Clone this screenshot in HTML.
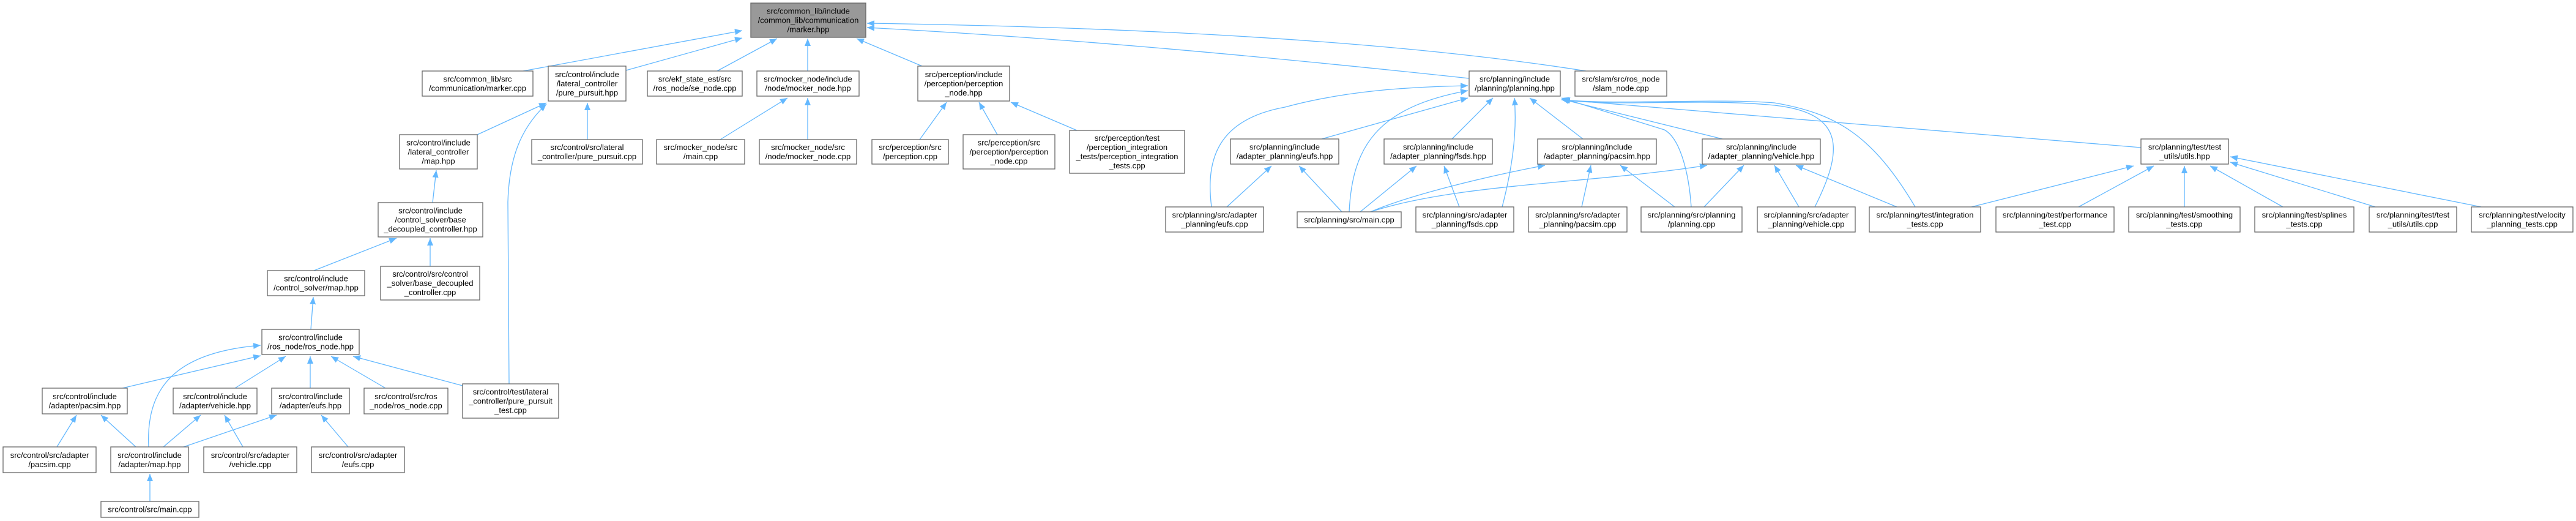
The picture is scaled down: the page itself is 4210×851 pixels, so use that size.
<!DOCTYPE html>
<html><head><meta charset="utf-8"><style>
html,body{margin:0;padding:0;background:#fff;}
svg{display:block;}
text{font-family:"Liberation Sans",Arial,sans-serif;font-size:13px;fill:#000;text-anchor:middle;}
.n{fill:#fff;stroke:#666;stroke-width:1.3;}
.e{fill:none;stroke:#63b8ff;stroke-width:1.3;marker-end:url(#a);}
</style></head><body>
<svg width="4210" height="851" viewBox="0 0 4210 851" xmlns="http://www.w3.org/2000/svg">
<defs><marker id="a" markerUnits="userSpaceOnUse" markerWidth="12" markerHeight="10" refX="12" refY="5" orient="auto"><path d="M0,0 L12,5 L0,10 z" fill="#63b8ff"/></marker></defs>

<!-- edges to root -->
<path class="e" d="M855,116 L1213,50"/>
<path class="e" d="M1023,115 L1213,62"/>
<path class="e" d="M1172,116 L1270,63"/>
<path class="e" d="M1320,116 L1320,63"/>
<path class="e" d="M1507,108 L1400,63"/>
<path class="e" d="M2401,128 C2000,85 1700,60 1417,45"/>
<path class="e" d="M2592,116 C2300,70 1900,45 1417,38"/>
<!-- control -->
<path class="e" d="M780,220 L893,168"/>
<path class="e" d="M960,228 L960,168"/>
<path class="e" d="M832,627 L830,330 C832,260 850,210 893,170"/>
<path class="e" d="M707,331 L713,278"/>
<path class="e" d="M513,442 L648,389"/>
<path class="e" d="M703,435 L703,389"/>
<path class="e" d="M508,538 L512,485"/>
<path class="e" d="M200,634 L426,581"/>
<path class="e" d="M243,730 C238,630 290,575 426,564"/>
<path class="e" d="M384,634 L467,582"/>
<path class="e" d="M507,634 L507,582"/>
<path class="e" d="M630,634 L541,582"/>
<path class="e" d="M756,630 L577,582"/>
<path class="e" d="M93,730 L125,678"/>
<path class="e" d="M222,730 L165,678"/>
<path class="e" d="M267,730 L328,678"/>
<path class="e" d="M397,730 L367,678"/>
<path class="e" d="M300,730 L452,678"/>
<path class="e" d="M569,730 L525,678"/>
<path class="e" d="M245,819 L245,774"/>
<path class="e" d="M1177,228 L1287,160"/>
<path class="e" d="M1320,228 L1320,160"/>
<path class="e" d="M1503,228 L1547,167"/>
<path class="e" d="M1630,220 L1600,167"/>
<path class="e" d="M1760,213 L1652,167"/>
<!-- planning -->
<path class="e" d="M2160,227 L2399,160"/>
<path class="e" d="M1980,338 C1970,260 1990,195 2100,175 C2200,148 2300,142 2399,140"/>
<path class="e" d="M2205,346 C2210,240 2250,175 2399,148"/>
<path class="e" d="M2373,227 L2440,160"/>
<path class="e" d="M2587,227 L2500,160"/>
<path class="e" d="M2455,338 C2470,280 2480,220 2475,160"/>
<path class="e" d="M2764,338 C2760,280 2745,225 2720,212 L2552,160"/>
<path class="e" d="M2815,227 L2552,162"/>
<path class="e" d="M2966,338 C3010,250 3020,185 2900,172 C2780,160 2650,175 2552,163"/>
<path class="e" d="M3130,338 C3060,220 3000,185 2900,168 C2800,160 2650,172 2552,163"/>
<path class="e" d="M3499,241 L2554,163"/>
<path class="e" d="M2005,338 L2078,271"/>
<path class="e" d="M2193,346 L2123,271"/>
<path class="e" d="M2223,346 L2315,271"/>
<path class="e" d="M2385,338 L2360,271"/>
<path class="e" d="M2240,346 C2300,320 2420,290 2525,270"/>
<path class="e" d="M2240,346 C2380,300 2600,300 2790,270"/>
<path class="e" d="M2585,338 L2600,270"/>
<path class="e" d="M2737,338 L2648,270"/>
<path class="e" d="M2785,338 L2850,270"/>
<path class="e" d="M2940,338 L2900,270"/>
<path class="e" d="M3100,338 L2935,270"/>
<path class="e" d="M3222,338 L3487,271"/>
<path class="e" d="M3397,338 L3520,271"/>
<path class="e" d="M3570,338 L3570,271"/>
<path class="e" d="M3731,338 L3612,271"/>
<path class="e" d="M3882,338 L3645,265"/>
<path class="e" d="M4055,338 L3645,256"/>

<!-- nodes -->
<rect x="1227" y="5" width="188" height="56" fill="#999" stroke="#666" stroke-width="1.3"/>
<text x="1321" y="22.5"><tspan x="1321">src/common_lib/include</tspan><tspan x="1321" dy="15">/common_lib/communication</tspan><tspan x="1321" dy="15">/marker.hpp</tspan></text>

<rect class="n" x="690" y="116" width="181" height="41"/>
<text y="133.5"><tspan x="780.5">src/common_lib/src</tspan><tspan x="780.5" dy="15">/communication/marker.cpp</tspan></text>
<rect class="n" x="896" y="108" width="127" height="57"/>
<text y="126"><tspan x="959.5">src/control/include</tspan><tspan x="959.5" dy="15">/lateral_controller</tspan><tspan x="959.5" dy="15">/pure_pursuit.hpp</tspan></text>
<rect class="n" x="1058" y="116" width="155" height="41"/>
<text y="133.5"><tspan x="1135.5">src/ekf_state_est/src</tspan><tspan x="1135.5" dy="15">/ros_node/se_node.cpp</tspan></text>
<rect class="n" x="1237" y="116" width="167" height="41"/>
<text y="133.5"><tspan x="1320.5">src/mocker_node/include</tspan><tspan x="1320.5" dy="15">/node/mocker_node.hpp</tspan></text>
<rect class="n" x="1500" y="108" width="150" height="57"/>
<text y="126"><tspan x="1575">src/perception/include</tspan><tspan x="1575" dy="15">/perception/perception</tspan><tspan x="1575" dy="15">_node.hpp</tspan></text>
<rect class="n" x="2401" y="116" width="149" height="41"/>
<text y="133.5"><tspan x="2475.5">src/planning/include</tspan><tspan x="2475.5" dy="15">/planning/planning.hpp</tspan></text>
<rect class="n" x="2574" y="116" width="150" height="41"/>
<text y="133.5"><tspan x="2649">src/slam/src/ros_node</tspan><tspan x="2649" dy="15">/slam_node.cpp</tspan></text>

<rect class="n" x="653" y="220" width="127" height="56"/>
<text y="237.5"><tspan x="716.5">src/control/include</tspan><tspan x="716.5" dy="15">/lateral_controller</tspan><tspan x="716.5" dy="15">/map.hpp</tspan></text>
<rect class="n" x="869" y="228" width="181" height="40"/>
<text y="245"><tspan x="959.5">src/control/src/lateral</tspan><tspan x="959.5" dy="15">_controller/pure_pursuit.cpp</tspan></text>
<rect class="n" x="1073" y="228" width="144" height="40"/>
<text y="245"><tspan x="1145">src/mocker_node/src</tspan><tspan x="1145" dy="15">/main.cpp</tspan></text>
<rect class="n" x="1241" y="228" width="159" height="40"/>
<text y="245"><tspan x="1320.5">src/mocker_node/src</tspan><tspan x="1320.5" dy="15">/node/mocker_node.cpp</tspan></text>
<rect class="n" x="1425" y="228" width="125" height="40"/>
<text y="245"><tspan x="1487.5">src/perception/src</tspan><tspan x="1487.5" dy="15">/perception.cpp</tspan></text>
<rect class="n" x="1574" y="220" width="150" height="56"/>
<text y="237.5"><tspan x="1649">src/perception/src</tspan><tspan x="1649" dy="15">/perception/perception</tspan><tspan x="1649" dy="15">_node.cpp</tspan></text>
<rect class="n" x="1748" y="213" width="188" height="70"/>
<text y="230"><tspan x="1842">src/perception/test</tspan><tspan x="1842" dy="15">/perception_integration</tspan><tspan x="1842" dy="15">_tests/perception_integration</tspan><tspan x="1842" dy="15">_tests.cpp</tspan></text>

<rect class="n" x="618" y="331" width="171" height="56"/>
<text y="348.5"><tspan x="703.5">src/control/include</tspan><tspan x="703.5" dy="15">/control_solver/base</tspan><tspan x="703.5" dy="15">_decoupled_controller.hpp</tspan></text>
<rect class="n" x="622" y="435" width="162" height="55"/>
<text y="452"><tspan x="703">src/control/src/control</tspan><tspan x="703" dy="15">_solver/base_decoupled</tspan><tspan x="703" dy="15">_controller.cpp</tspan></text>
<rect class="n" x="437" y="442" width="159" height="41"/>
<text y="459.5"><tspan x="516.5">src/control/include</tspan><tspan x="516.5" dy="15">/control_solver/map.hpp</tspan></text>
<rect class="n" x="428" y="538" width="159" height="41"/>
<text y="555.5"><tspan x="507.5">src/control/include</tspan><tspan x="507.5" dy="15">/ros_node/ros_node.hpp</tspan></text>

<rect class="n" x="69" y="634" width="139" height="42"/>
<text y="652"><tspan x="138.5">src/control/include</tspan><tspan x="138.5" dy="15">/adapter/pacsim.hpp</tspan></text>
<rect class="n" x="283" y="634" width="137" height="42"/>
<text y="652"><tspan x="351.5">src/control/include</tspan><tspan x="351.5" dy="15">/adapter/vehicle.hpp</tspan></text>
<rect class="n" x="444" y="634" width="127" height="42"/>
<text y="652"><tspan x="507.5">src/control/include</tspan><tspan x="507.5" dy="15">/adapter/eufs.hpp</tspan></text>
<rect class="n" x="595" y="634" width="137" height="42"/>
<text y="652"><tspan x="663.5">src/control/src/ros</tspan><tspan x="663.5" dy="15">_node/ros_node.cpp</tspan></text>
<rect class="n" x="756" y="627" width="157" height="56"/>
<text y="644.5"><tspan x="834.5">src/control/test/lateral</tspan><tspan x="834.5" dy="15">_controller/pure_pursuit</tspan><tspan x="834.5" dy="15">_test.cpp</tspan></text>

<rect class="n" x="5" y="730" width="152" height="42"/>
<text y="748"><tspan x="81">src/control/src/adapter</tspan><tspan x="81" dy="15">/pacsim.cpp</tspan></text>
<rect class="n" x="181" y="730" width="127" height="42"/>
<text y="748"><tspan x="244.5">src/control/include</tspan><tspan x="244.5" dy="15">/adapter/map.hpp</tspan></text>
<rect class="n" x="333" y="730" width="152" height="42"/>
<text y="748"><tspan x="409">src/control/src/adapter</tspan><tspan x="409" dy="15">/vehicle.cpp</tspan></text>
<rect class="n" x="509" y="730" width="152" height="42"/>
<text y="748"><tspan x="585">src/control/src/adapter</tspan><tspan x="585" dy="15">/eufs.cpp</tspan></text>
<rect class="n" x="165" y="819" width="160" height="26"/>
<text x="245" y="836.5">src/control/src/main.cpp</text>

<!-- planning nodes -->
<rect class="n" x="2011" y="227" width="177" height="41"/>
<text y="244.5"><tspan x="2099.5">src/planning/include</tspan><tspan x="2099.5" dy="15">/adapter_planning/eufs.hpp</tspan></text>
<rect class="n" x="2262" y="227" width="177" height="41"/>
<text y="244.5"><tspan x="2350.5">src/planning/include</tspan><tspan x="2350.5" dy="15">/adapter_planning/fsds.hpp</tspan></text>
<rect class="n" x="2513" y="227" width="194" height="41"/>
<text y="244.5"><tspan x="2610">src/planning/include</tspan><tspan x="2610" dy="15">/adapter_planning/pacsim.hpp</tspan></text>
<rect class="n" x="2782" y="227" width="193" height="41"/>
<text y="244.5"><tspan x="2878.5">src/planning/include</tspan><tspan x="2878.5" dy="15">/adapter_planning/vehicle.hpp</tspan></text>
<rect class="n" x="3499" y="227" width="143" height="41"/>
<text y="244.5"><tspan x="3570.5">src/planning/test/test</tspan><tspan x="3570.5" dy="15">_utils/utils.hpp</tspan></text>

<rect class="n" x="1905" y="338" width="160" height="41"/>
<text y="355.5"><tspan x="1985">src/planning/src/adapter</tspan><tspan x="1985" dy="15">_planning/eufs.cpp</tspan></text>
<rect class="n" x="2120" y="346" width="170" height="26"/>
<text x="2205" y="363.5">src/planning/src/main.cpp</text>
<rect class="n" x="2314" y="338" width="160" height="41"/>
<text y="355.5"><tspan x="2394">src/planning/src/adapter</tspan><tspan x="2394" dy="15">_planning/fsds.cpp</tspan></text>
<rect class="n" x="2498" y="338" width="161" height="41"/>
<text y="355.5"><tspan x="2578.5">src/planning/src/adapter</tspan><tspan x="2578.5" dy="15">_planning/pacsim.cpp</tspan></text>
<rect class="n" x="2682" y="338" width="165" height="41"/>
<text y="355.5"><tspan x="2764.5">src/planning/src/planning</tspan><tspan x="2764.5" dy="15">/planning.cpp</tspan></text>
<rect class="n" x="2872" y="338" width="160" height="41"/>
<text y="355.5"><tspan x="2952">src/planning/src/adapter</tspan><tspan x="2952" dy="15">_planning/vehicle.cpp</tspan></text>
<rect class="n" x="3055" y="338" width="182" height="41"/>
<text y="355.5"><tspan x="3146">src/planning/test/integration</tspan><tspan x="3146" dy="15">_tests.cpp</tspan></text>
<rect class="n" x="3262" y="338" width="193" height="41"/>
<text y="355.5"><tspan x="3358.5">src/planning/test/performance</tspan><tspan x="3358.5" dy="15">_test.cpp</tspan></text>
<rect class="n" x="3479" y="338" width="182" height="41"/>
<text y="355.5"><tspan x="3570">src/planning/test/smoothing</tspan><tspan x="3570" dy="15">_tests.cpp</tspan></text>
<rect class="n" x="3685" y="338" width="162" height="41"/>
<text y="355.5"><tspan x="3766">src/planning/test/splines</tspan><tspan x="3766" dy="15">_tests.cpp</tspan></text>
<rect class="n" x="3872" y="338" width="143" height="41"/>
<text y="355.5"><tspan x="3943.5">src/planning/test/test</tspan><tspan x="3943.5" dy="15">_utils/utils.cpp</tspan></text>
<rect class="n" x="4039" y="338" width="166" height="41"/>
<text y="355.5"><tspan x="4122">src/planning/test/velocity</tspan><tspan x="4122" dy="15">_planning_tests.cpp</tspan></text>
</svg>
</body></html>
